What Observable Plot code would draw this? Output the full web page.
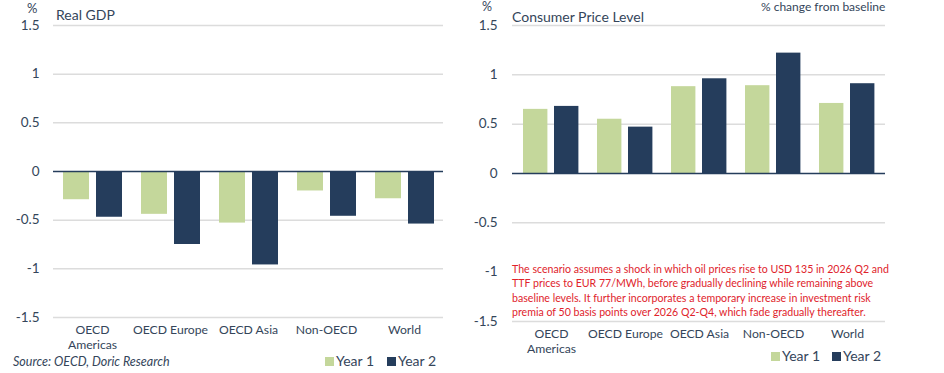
<!DOCTYPE html>
<html>
<head>
<meta charset="utf-8">
<script src="https://cdn.jsdelivr.net/npm/d3@7"></script>
<script src="https://cdn.jsdelivr.net/npm/@observablehq/plot@0.6"></script>
<style>
  html, body { margin: 0; padding: 0; background: #ffffff; }
  #wrap { position: relative; width: 944px; height: 373px; overflow: hidden; font-family: Lato, "Open Sans", sans-serif; color: #34455a; }
  .abs { position: absolute; white-space: nowrap; line-height: 1.15; }
  .sw { position: absolute; width: 9px; height: 9px; }
  #note { position: absolute; left: 510px; top: 262px; background: #fff; color: #e0232b; font-size: 10.6px; line-height: 14.4px; white-space: nowrap; padding: 0 2px; }
</style>
</head>
<body>
<div id="wrap"></div>
<script>
// ---- data ----
const categories = ["OECD Americas", "OECD Europe", "OECD Asia", "Non-OECD", "World"];
const seriesNames = ["Year 1", "Year 2"];
const gdpYear1 = [-0.29, -0.44, -0.53, -0.20, -0.28];
const gdpYear2 = [-0.47, -0.75, -0.96, -0.46, -0.54];
const cpiYear1 = [0.65, 0.55, 0.88, 0.89, 0.71];
const cpiYear2 = [0.68, 0.47, 0.96, 1.22, 0.91];
const yTicks = [-1.5, -1, -0.5, 0, 0.5, 1, 1.5];
const leftTitle = "Real GDP";
const rightTitle = "Consumer Price Level";
const unitLabel = "%";
const subtitle = "% change from baseline";
const sourceText = "Source: OECD, Doric Research";
const noteLines = [
  "The scenario assumes a shock in which oil prices rise to USD 135 in 2026 Q2 and",
  "TTF prices to EUR 77/MWh, before gradually declining while remaining above",
  "baseline levels. It further incorporates a temporary increase in investment risk",
  "premia of 50 basis points over 2026 Q2-Q4, which fade gradually thereafter."
];

const green = "#c4d79b";
const navy = "#253d5c";
const textColor = "#34455a";
const gridColor = "#dcdcdc";

function panel(opts) {
  const rows = categories.map((c, i) => ({cat: c, y1: opts.y1[i], y2: opts.y2[i]}));
  return Plot.plot({
    width: opts.width,
    height: opts.height,
    marginTop: 25,
    marginBottom: opts.marginBottom,
    marginLeft: opts.marginLeft,
    marginRight: opts.marginRight,
    style: {fontFamily: "Lato, sans-serif", fontSize: "13.5px", color: textColor, background: "transparent", overflow: "visible"},
    x: {type: "band", domain: categories, padding: 0},
    y: {domain: [-1.5, 1.5]},
    marks: [
      Plot.ruleY(yTicks.filter(d => d !== 0), {stroke: gridColor, strokeWidth: 1.5}),
      Plot.barY(rows, {x: "cat", y: "y1", fill: green, insetLeft: opts.in1[0], insetRight: opts.in1[1]}),
      Plot.barY(rows, {x: "cat", y: "y2", fill: navy, insetLeft: opts.in2[0], insetRight: opts.in2[1]}),
      Plot.ruleY([0], {stroke: navy, strokeWidth: 1.6}),
      Plot.axisY({ticks: yTicks, tickSize: 0, tickPadding: opts.tickPadding, tickFormat: d => String(d), fill: textColor, fontSize: 13.5, label: null}),
      Plot.axisX({tickSize: 0, tickPadding: opts.xPad, tickFormat: d => d === "OECD Americas" ? "OECD\nAmericas" : d, lineHeight: 1.2, fill: textColor, fontSize: 12.2, label: null})
    ]
  });
}

const wrap = document.getElementById("wrap");

const left = panel({y1: gdpYear1, y2: gdpYear2, width: 470, height: 352, marginLeft: 53, marginRight: 27, marginBottom: 35,
  in1: [10, 42], in2: [43, 9], tickPadding: 14, xPad: 6});
left.style.position = "absolute"; left.style.left = "0px"; left.style.top = "0px";
wrap.appendChild(left);

const right = panel({y1: cpiYear1, y2: cpiYear2, width: 474, height: 356, marginLeft: 42, marginRight: 59, marginBottom: 35,
  in1: [9, 40.6], in2: [40, 9.6], tickPadding: 15, xPad: 6});
right.style.position = "absolute"; right.style.left = "470px"; right.style.top = "0px";
wrap.appendChild(right);

function addText(txt, x, y, size, extra) {
  const d = document.createElement("div");
  d.className = "abs";
  d.textContent = txt;
  d.style.left = x + "px";
  d.style.top = y + "px";
  d.style.fontSize = size + "px";
  if (extra) Object.assign(d.style, extra);
  wrap.appendChild(d);
  return d;
}

addText(unitLabel, 27, 1, 13);
addText(leftTitle, 56, 7, 14);
addText(unitLabel, 482, 0, 12.5);
addText(rightTitle, 512, 9, 14);
addText(subtitle, 761, 0, 12);
addText(sourceText, 13, 355, 12.5, {fontStyle: "italic"});

// annotation
const note = document.createElement("div");
note.id = "note";
note.innerHTML = noteLines.map(l => "<div>" + l + "</div>").join("");
wrap.appendChild(note);

// legends
function legend(x0, y0, gap) {
  seriesNames.forEach((name, i) => {
    const sw = document.createElement("div");
    sw.className = "sw";
    sw.style.left = (x0 + i * gap) + "px";
    sw.style.top = y0 + "px";
    sw.style.background = i === 0 ? green : navy;
    wrap.appendChild(sw);
    addText(name, x0 + i * gap + 11, y0 - 4, 14);
  });
}
legend(325, 357, 62);
legend(771, 352, 61);
</script>
</body>
</html>
